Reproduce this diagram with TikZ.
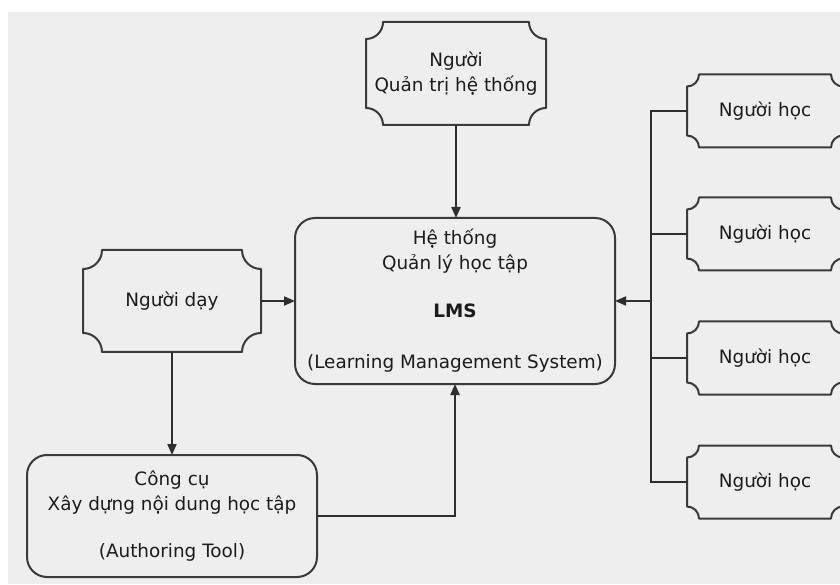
\documentclass[tikz,border=0pt]{standalone}
\usepackage{fontspec}
\setmainfont{DejaVu Sans}
\usetikzlibrary{arrows.meta}

\definecolor{pagebg}{HTML}{EEEEEE}
\definecolor{boxc}{HTML}{3A3A3A}
\definecolor{linec}{HTML}{2E2E2E}
\definecolor{txt}{HTML}{1C1C1C}

\newcommand{\bodyfont}{\fontsize{18.4}{25}\selectfont}

\tikzset{
  boxline/.style={draw=boxc, line width=2pt, line join=round},
  conn/.style={draw=linec, line width=2pt},
  arr/.style={conn, -{Triangle[length=11pt,width=9pt]}},
  label text/.style={align=center, font=\bodyfont, text=txt, inner sep=0pt, outer sep=0pt},
  % rectangle with inward (concave) rounded corners
  plaque/.style={rectangle, label text,
    append after command={\pgfextra{
      \draw[boxline]
        ([yshift=-#1]\tikzlastnode.north west) arc[start angle=270,end angle=360,radius=#1]
        -- ([xshift=-#1]\tikzlastnode.north east) arc[start angle=180,end angle=270,radius=#1]
        -- ([yshift=#1]\tikzlastnode.south east) arc[start angle=90,end angle=180,radius=#1]
        -- ([xshift=#1]\tikzlastnode.south west) arc[start angle=0,end angle=90,radius=#1]
        -- cycle;}}},
  roundbox/.style={rectangle, rounded corners=20pt, boxline, label text, outer sep=0pt},
  learner/.style={plaque=12pt, minimum width=156pt, minimum height=73pt}
}

\begin{document}
\begin{tikzpicture}[x=1pt,y=1pt]
  \useasboundingbox (0,0) rectangle (840,584);
  \clip (0,0) rectangle (840,584);
  \fill[white] (0,0) rectangle (840,584);
  \fill[pagebg] (8,0) rectangle (840,572);

  % central system
  \node[roundbox, minimum width=320pt, minimum height=166pt] (lms) at (455,283)
    {Hệ thống\\Quản lý học tập\\[23pt]\textbf{LMS}\\[26pt](Learning Management System)};

  % administrator
  \node[plaque=17pt, minimum width=180pt, minimum height=103pt] (admin) at (456,510.5)
    {Người\\Quản trị hệ thống};

  % teacher and authoring tool
  \node[plaque=19pt, minimum width=178pt, minimum height=102pt] (teacher) at (172,283)
    {Người dạy};
  \node[roundbox, minimum width=290pt, minimum height=122pt] (author) at (172,68)
    {Công cụ\\Xây dựng nội dung học tập\\[22pt](Authoring Tool)};

  % learners
  \node[learner] (l1) at (765,473) {Người học};
  \node[learner] (l2) at (765,350) {Người học};
  \node[learner] (l3) at (765,226) {Người học};
  \node[learner] (l4) at (765,102) {Người học};

  % connectors
  \draw[arr] (admin.south) -- (admin.south |- lms.north);
  \draw[arr] (teacher.east) -- (lms.west);
  \draw[arr] (teacher.south) -- (author.north);
  \draw[arr] (author.east) -| (lms.south);

  \coordinate (bus) at (651,283);
  \draw[conn] (l1.west) -- (l1.west -| bus) -- (l4.west -| bus) -- (l4.west);
  \draw[conn] (l2.west) -- (l2.west -| bus);
  \draw[conn] (l3.west) -- (l3.west -| bus);
  \draw[arr] (bus) -- (lms.east);
\end{tikzpicture}
\end{document}
